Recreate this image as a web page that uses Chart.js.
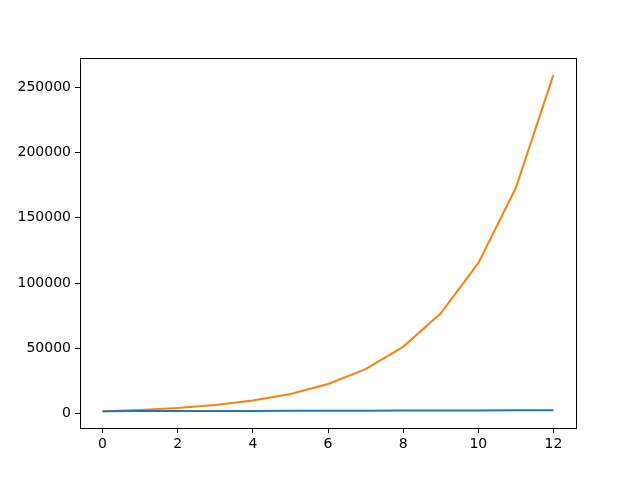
<!DOCTYPE html>
<html>
<head>
<meta charset="utf-8">
<script src="https://cdn.jsdelivr.net/npm/chart.js@4"></script>
<style>
  html, body { margin: 0; padding: 0; background: #fff; }
  #wrap { width: 640px; height: 480px; }
</style>
</head>
<body>
<div id="wrap"><canvas id="chart" width="640" height="480"></canvas></div>
<script>
// dados
const xValues = [0, 1, 2, 3, 4, 5, 6, 7, 8, 9, 10, 11, 12];
const blueValues = [2000, 2050, 2100, 2160, 2210, 2270, 2330, 2390, 2450, 2510, 2570, 2640, 2700];
const orangeValues = [2000, 3000, 4500, 6750, 10125, 15190, 22780, 34170, 51260, 76890, 115330, 173000, 259490];
const xTicks = [0, 2, 4, 6, 8, 10, 12];
const yTicks = [0, 50000, 100000, 150000, 200000, 250000];

const toPoints = vals => vals.map((v, i) => ({ x: xValues[i], y: v }));

// moldura em volta da área do gráfico (estilo matplotlib)
const frame = {
    id: 'frame',
    afterDraw(chart) {
        const a = chart.chartArea;
        const c = chart.ctx;
        c.save();
        c.strokeStyle = '#000';
        c.lineWidth = 1;
        c.strokeRect(Math.round(a.left) + 0.5, Math.round(a.top) + 0.5,
            Math.round(a.right - a.left), Math.round(a.bottom - a.top));
        c.restore();
    }
};

const tickFont = { family: 'DejaVu Sans', size: 14 };

new Chart(document.getElementById('chart'), {
    type: 'line',
    data: {
        datasets: [
            { data: toPoints(blueValues), borderColor: '#1f77b4', borderWidth: 2, pointRadius: 0, tension: 0 },
            { data: toPoints(orangeValues), borderColor: '#ff7f0e', borderWidth: 2, pointRadius: 0, tension: 0 }
        ]
    },
    options: {
        responsive: false,
        animation: false,
        layout: { padding: { top: 58, right: 64, left: 0, bottom: 0 } },
        plugins: { legend: { display: false }, tooltip: { enabled: false } },
        scales: {
            x: {
                type: 'linear',
                min: -0.6,
                max: 12.6,
                afterBuildTicks: s => { s.ticks = xTicks.map(v => ({ value: v })); },
                afterFit: s => { s.height = 52; },
                grid: { drawOnChartArea: false, drawTicks: true, tickLength: 5, color: '#000' },
                border: { display: true, color: '#000' },
                ticks: { font: tickFont, color: '#000', padding: 3, maxRotation: 0 }
            },
            y: {
                type: 'linear',
                min: -10875,
                max: 272370,
                afterBuildTicks: s => { s.ticks = yTicks.map(v => ({ value: v })); },
                afterFit: s => { s.width = 80; },
                grid: { drawOnChartArea: false, drawTicks: true, tickLength: 5, color: '#000' },
                border: { display: true, color: '#000' },
                ticks: { font: tickFont, color: '#000', padding: 4, callback: v => String(v) }
            }
        }
    },
    plugins: [frame]
});
</script>
</body>
</html>
